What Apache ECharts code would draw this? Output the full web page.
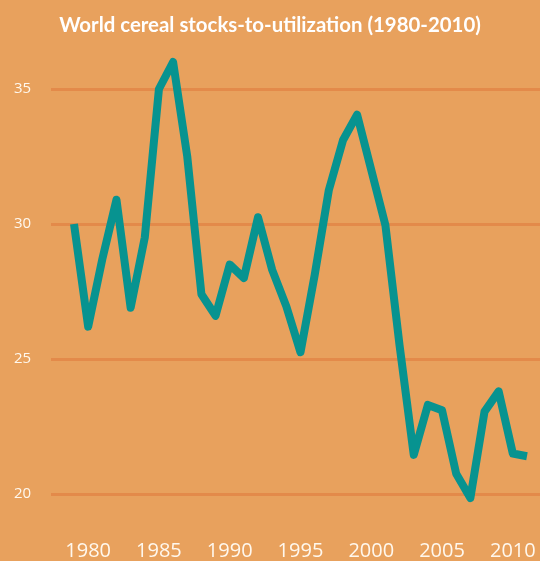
<!DOCTYPE html>
<html>
<head>
<meta charset="utf-8">
<script src="https://cdn.jsdelivr.net/npm/echarts@6/dist/echarts.min.js"></script>
<style>
  html, body { margin: 0; padding: 0; background: #e8a15d; }
  #chart { width: 540px; height: 561px; }
</style>
</head>
<body>
<div id="chart"></div>
<script>
// years and stocks-to-utilization ratio (%)
const years = [1979, 1980, 1981, 1982, 1983, 1984, 1985, 1986, 1987, 1988, 1989,
  1990, 1991, 1992, 1993, 1994, 1995, 1996, 1997, 1998, 1999,
  2000, 2001, 2002, 2003, 2004, 2005, 2006, 2007, 2008, 2009, 2010, 2011]
const ratio = [30.0, 26.2, 28.7, 30.9, 26.9, 29.5, 35.0, 36.0, 32.5, 27.4, 26.6,
  28.5, 28.0, 30.25, 28.3, 26.95, 25.25, 28.1, 31.25, 33.1, 34.05,
  32.0, 29.95, 25.5, 21.45, 23.3, 23.1, 20.75, 19.85, 23.05, 23.8, 21.5, 21.4]
const xTicks = [1980, 1985, 1990, 1995, 2000, 2005, 2010]
const yTicks = [20, 25, 30, 35]

const myChart = echarts.init(document.getElementById('chart'))
const option = {
  animation: false,
  backgroundColor: '#e8a15d',
  title: {
    text: 'World cereal stocks-to-utilization (1980-2010)',
    left: 'center',
    top: 10,
    textStyle: {
      color: '#ffffff',
      fontFamily: 'Lato',
      fontWeight: 'bold',
      fontSize: 20.4
    }
  },
  grid: {
    left: 51,
    right: 0,
    top: 89,
    bottom: 66
  },
  xAxis: {
    type: 'value',
    min: 1977.375,
    max: 2011.92,
    axisLine: { show: false },
    axisTick: { show: false },
    splitLine: { show: false },
    axisLabel: {
      customValues: xTicks,
      color: '#fff8ee',
      fontFamily: 'Open Sans',
      fontSize: 20,
      margin: 47,
      formatter: v => String(v)
    }
  },
  yAxis: {
    type: 'value',
    min: yTicks[0],
    max: yTicks[yTicks.length - 1],
    interval: 5,
    axisLine: { show: false },
    axisTick: { show: false },
    axisLabel: {
      color: '#fff8ee',
      fontFamily: 'Open Sans',
      fontSize: 15,
      align: 'left',
      margin: 37
    },
    splitLine: {
      lineStyle: { color: '#e38a4a', width: 3 }
    }
  },
  series: [
    {
      type: 'line',
      data: years.map((y, i) => [y, ratio[i]]),
      clip: false,
      symbol: 'none',
      lineStyle: { color: '#079390', width: 8, join: 'round' }
    }
  ]
}
myChart.setOption(option)
</script>
</body>
</html>
